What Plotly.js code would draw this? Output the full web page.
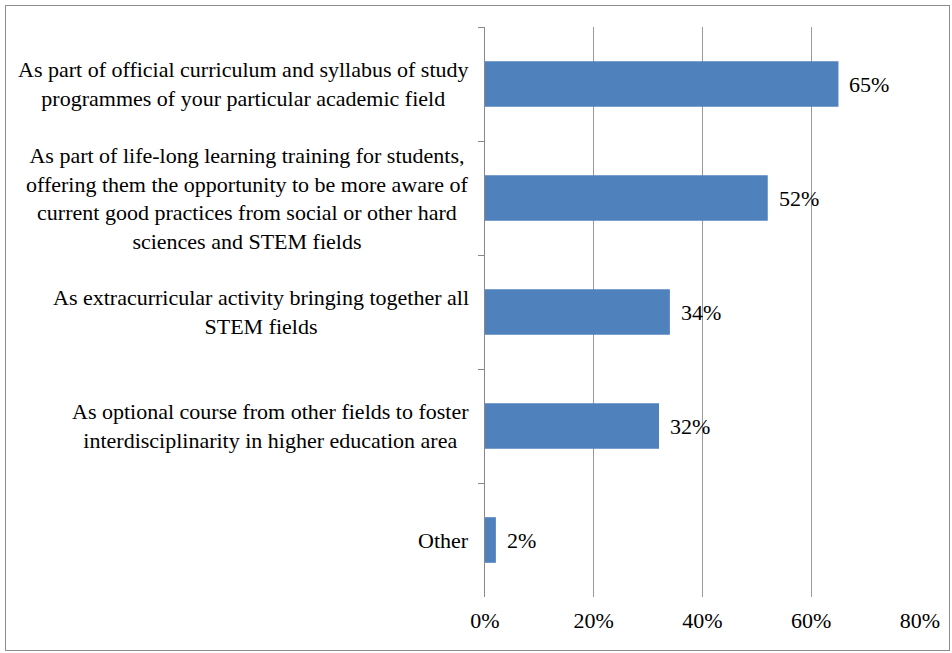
<!DOCTYPE html>
<html>
<head>
<meta charset="utf-8">
<script src="https://cdn.plot.ly/plotly-3.0.1.min.js"></script>
<style>
  html, body { margin: 0; padding: 0; background: #fff; }
  #chart { width: 952px; height: 653px; position: relative; }
  #frame { position: absolute; left: 5px; top: 5px; width: 943px; height: 644px;
           border: 1px solid #8c8c8c; pointer-events: none; }
</style>
</head>
<body>
<div id="chart"></div>
<div id="frame"></div>
<script>
// Survey answers: where should the topic be offered
const categories = [
  'As part of official curriculum and syllabus of study<br>programmes of your particular academic field',
  'As part of life-long learning training for students,<br>offering them the opportunity to be more aware of<br>current good practices from social or other hard<br>sciences and STEM fields',
  'As extracurricular activity bringing together all<br>STEM fields',
  'As optional course from other fields to foster<br>interdisciplinarity in higher education area',
  'Other'
];
const shares = [65, 52, 34, 32, 2];
const tickValues = [0, 20, 40, 60, 80];
const tickLabels = ['0%', '20%', '40%', '60%', '80%'];

const font = { family: 'Liberation Serif, Times New Roman, serif', size: 22, color: '#000' };

const trace = {
  type: 'bar',
  orientation: 'h',
  x: shares,
  y: categories,
  marker: { color: '#4f81bd' },
  width: 0.4,
  hoverinfo: 'skip'
};

// Category labels (centred lines) to the left of the axis
const labelNotes = categories.map((c) => ({
  xref: 'paper', yref: 'y', x: 0, y: c,
  text: c, showarrow: false, xanchor: 'right', yanchor: 'middle',
  align: 'center', xshift: -14, font: font
}));

// Value labels just past the end of each bar
const valueNotes = shares.map((v, i) => ({
  xref: 'x', yref: 'y', x: v, y: categories[i],
  text: v + '%', showarrow: false, xanchor: 'left', yanchor: 'middle',
  xshift: 9, font: font
}));

const layout = {
  width: 952, height: 653,
  margin: { l: 485, r: 32, t: 27, b: 56 },
  paper_bgcolor: 'rgba(0,0,0,0)',
  plot_bgcolor: 'rgba(0,0,0,0)',
  font: font,
  showlegend: false,
  bargap: 0.6,
  xaxis: {
    range: [0, 80],
    tickvals: tickValues,
    ticktext: tickLabels,
    showgrid: true, gridcolor: '#999999', gridwidth: 1,
    zeroline: false, showline: false,
    ticks: '', ticklen: 0,
    ticklabelstandoff: 8,
    tickfont: font,
    fixedrange: true
  },
  yaxis: {
    type: 'category',
    autorange: 'reversed',
    showticklabels: false,
    showline: true, linecolor: '#888888', linewidth: 1,
    ticks: 'outside', tickson: 'boundaries', ticklen: 6, tickcolor: '#888888',
    showgrid: false, zeroline: false,
    fixedrange: true
  },
  annotations: labelNotes.concat(valueNotes)
};

Plotly.newPlot('chart', [trace], layout, { displayModeBar: false, staticPlot: true });
</script>
</body>
</html>
